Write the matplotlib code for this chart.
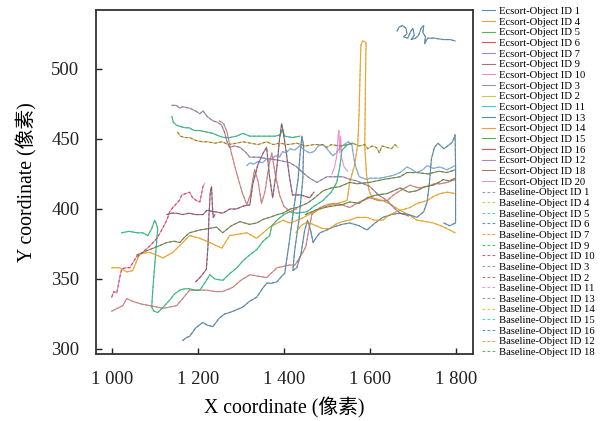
import numpy as np
import matplotlib
matplotlib.use("Agg")
import matplotlib.pyplot as plt

plt.rcParams['font.family'] = ['Liberation Serif', 'Noto Sans CJK SC']

# ---- trajectories (x, y in pixels) ----
trk_1 = [(1663, 527), (1668, 530), (1676, 531), (1684, 529), (1686, 525), (1678, 523), (1688, 522),
         (1695, 527), (1700, 529), (1703, 524), (1696, 521), (1706, 522), (1713, 524), (1719, 529),
         (1725, 531), (1723, 526), (1729, 523), (1727, 518), (1734, 522), (1750, 522), (1770, 521),
         (1786, 521), (1798, 520)]
trk_4 = [(1000, 358), (1019, 358), (1035, 355), (1049, 356), (1065, 368), (1088, 369), (1105, 367),
         (1119, 365), (1142, 369), (1165, 376), (1181, 381), (1205, 379), (1228, 376), (1256, 372),
         (1274, 381), (1295, 382), (1314, 383), (1337, 379), (1367, 387), (1398, 392), (1414, 390),
         (1440, 393), (1470, 398), (1500, 402), (1525, 404), (1547, 406), (1553, 419), (1565, 432),
         (1572, 447), (1575, 470), (1577, 495), (1579, 517), (1583, 520), (1591, 519), (1590, 500),
         (1589, 470), (1588, 445), (1592, 425), (1598, 413), (1605, 408), (1630, 406), (1650, 403),
         (1670, 399), (1690, 396), (1709, 392), (1730, 391), (1747, 390), (1765, 388), (1779, 386),
         (1798, 383)]
trk_5 = [(1140, 466), (1143, 462), (1150, 460), (1158, 459), (1170, 458), (1180, 458), (1192, 456),
         (1205, 456), (1220, 455), (1235, 454), (1250, 452), (1262, 451), (1274, 451), (1290, 452),
         (1305, 454), (1321, 452), (1340, 452), (1360, 452), (1380, 452), (1392, 453), (1397, 457),
         (1402, 452), (1420, 451), (1437, 452)]
trk_6 = [(1128, 396), (1140, 397), (1151, 397), (1165, 396), (1180, 397), (1195, 396), (1212, 396),
         (1221, 399), (1240, 398), (1258, 397), (1275, 400), (1290, 400), (1305, 402), (1321, 403),
         (1328, 418), (1340, 432), (1352, 440), (1360, 444), (1366, 425), (1374, 408), (1384, 430),
         (1390, 450), (1395, 461), (1400, 452), (1405, 442), (1412, 425), (1420, 410), (1440, 410),
         (1460, 408), (1470, 412)]
trk_7 = [(1000, 327), (1013, 329), (1026, 331), (1035, 336), (1049, 334), (1070, 332), (1088, 331),
         (1105, 330), (1119, 329), (1135, 330), (1151, 331), (1165, 336), (1181, 342), (1200, 342),
         (1221, 342), (1240, 341), (1258, 341), (1281, 344), (1300, 349), (1321, 353), (1340, 352),
         (1360, 351), (1384, 358), (1400, 359), (1414, 360), (1426, 360), (1444, 369), (1451, 373),
         (1458, 385), (1465, 396), (1484, 401), (1500, 403), (1514, 404), (1535, 403), (1553, 401),
         (1575, 405), (1600, 408), (1620, 406), (1640, 406), (1655, 410), (1670, 413), (1693, 417),
         (1713, 415), (1733, 416), (1750, 418), (1763, 418), (1780, 419), (1798, 421)]
trk_9 = [(1058, 367), (1080, 370), (1105, 373), (1128, 376), (1145, 377), (1158, 376), (1170, 380),
         (1181, 383), (1205, 385), (1225, 386), (1244, 387), (1258, 383), (1278, 388), (1298, 391),
         (1320, 389), (1337, 390), (1355, 393), (1367, 394), (1385, 396), (1398, 397), (1415, 400),
         (1430, 401), (1454, 404), (1472, 408), (1491, 413), (1510, 415), (1530, 416), (1553, 419),
         (1570, 418), (1600, 419), (1630, 421), (1670, 423), (1686, 426), (1710, 426), (1735, 425),
         (1760, 427), (1779, 426), (1798, 428)]
trk_10 = [(1000, 337), (1005, 341), (1012, 340), (1018, 350), (1023, 357), (1032, 358), (1042, 358),
          (1050, 362), (1058, 366), (1065, 367), (1075, 370), (1090, 374), (1105, 379), (1118, 386),
          (1128, 392), (1135, 398), (1142, 401), (1151, 404), (1157, 406), (1163, 410), (1172, 411),
          (1181, 412), (1188, 408), (1197, 406), (1205, 405), (1212, 416), (1216, 418)]
trk_3 = [(1140, 474), (1150, 474), (1158, 472), (1165, 473), (1181, 472), (1195, 470), (1205, 468),
         (1212, 470), (1222, 466), (1235, 463), (1245, 462), (1255, 460), (1262, 455), (1268, 448),
         (1274, 444), (1285, 445), (1298, 444), (1310, 441), (1321, 437), (1340, 437), (1360, 436),
         (1384, 435), (1400, 434), (1414, 433), (1430, 430), (1444, 426), (1460, 422), (1477, 419),
         (1500, 423), (1520, 423), (1537, 423), (1555, 421), (1570, 420), (1585, 418), (1600, 416),
         (1620, 410), (1640, 406), (1655, 401), (1670, 397), (1690, 395)]
trk_2 = [(1153, 455), (1160, 452), (1170, 451), (1181, 451), (1195, 449), (1210, 448), (1223, 448),
         (1240, 447), (1257, 448), (1270, 446), (1290, 447), (1305, 448), (1323, 447), (1340, 446),
         (1360, 448), (1375, 446), (1390, 447), (1410, 446), (1430, 447), (1450, 445), (1470, 446),
         (1490, 446), (1500, 444), (1510, 446), (1530, 445), (1550, 446), (1560, 447), (1575, 445),
         (1588, 446), (1595, 443), (1605, 445), (1615, 444), (1622, 440), (1628, 445), (1640, 444),
         (1650, 443), (1658, 446), (1665, 444)]
trk_11 = [(1314, 431), (1321, 433), (1330, 432), (1340, 434), (1351, 433), (1360, 436), (1370, 435),
          (1380, 438), (1390, 437), (1397, 441), (1405, 440), (1414, 443), (1425, 442), (1437, 445),
          (1448, 442), (1460, 440), (1470, 441), (1480, 445), (1491, 446), (1500, 443), (1514, 438),
          (1522, 440), (1530, 444), (1540, 446), (1550, 448), (1558, 446), (1565, 432), (1575, 423),
          (1593, 421), (1600, 422), (1623, 422), (1640, 423), (1654, 424), (1670, 426), (1686, 430),
          (1693, 429), (1709, 426), (1723, 428), (1733, 431), (1747, 429), (1763, 430), (1779, 428),
          (1798, 431)]
trk_13 = [(1165, 306), (1173, 308), (1181, 309), (1195, 315), (1212, 319), (1222, 317), (1235, 316),
          (1250, 322), (1262, 325), (1274, 326), (1290, 328), (1305, 330), (1320, 334), (1337, 337),
          (1350, 343), (1360, 347), (1372, 347), (1384, 348), (1395, 352), (1402, 354), (1412, 375),
          (1422, 398), (1433, 421), (1438, 440), (1442, 452), (1446, 445), (1444, 421), (1435, 392),
          (1425, 370), (1421, 356), (1430, 358), (1440, 368), (1448, 384), (1455, 392), (1462, 385),
          (1468, 376), (1476, 380), (1484, 383), (1500, 385), (1514, 387), (1535, 389), (1553, 390),
          (1575, 388), (1593, 385), (1612, 390), (1630, 394), (1650, 396), (1670, 397), (1690, 396),
          (1709, 394), (1725, 398), (1733, 405), (1738, 418), (1743, 436), (1750, 444), (1758, 447),
          (1765, 445), (1772, 443), (1785, 446), (1792, 448), (1798, 453), (1799, 430), (1799, 405),
          (1799, 390), (1785, 388), (1772, 390)]
trk_14 = [(1428, 383), (1440, 388), (1450, 390), (1460, 390), (1475, 388), (1490, 386), (1507, 386),
          (1520, 389), (1535, 391), (1553, 392), (1570, 394), (1593, 394), (1610, 392), (1630, 392),
          (1642, 395), (1654, 397), (1670, 399), (1693, 401), (1710, 404), (1733, 406), (1748, 409),
          (1763, 411), (1780, 412), (1798, 411)]
trk_15 = [(1023, 383), (1040, 384), (1060, 383), (1072, 383), (1084, 381), (1093, 386), (1100, 392),
          (1104, 389), (1107, 386), (1100, 360), (1095, 340), (1093, 330), (1098, 327), (1107, 326),
          (1120, 330), (1135, 335), (1145, 339), (1158, 342), (1170, 343), (1181, 343), (1195, 342),
          (1205, 342), (1218, 348), (1228, 353), (1240, 350), (1258, 349), (1275, 354), (1291, 358),
          (1305, 363), (1320, 367), (1337, 371), (1352, 377), (1367, 381), (1372, 388), (1384, 392),
          (1400, 396), (1414, 398), (1430, 397), (1454, 398), (1470, 402), (1491, 406), (1510, 412),
          (1523, 419), (1530, 430), (1535, 442), (1548, 446), (1560, 447)]
trk_16 = [(1195, 348), (1205, 351), (1213, 354), (1220, 357), (1224, 375), (1226, 395), (1229, 412),
          (1232, 416), (1234, 402), (1236, 394), (1240, 396)]
trk_12 = [(1250, 463), (1260, 461), (1268, 455), (1278, 440), (1290, 426), (1303, 412), (1314, 403),
          (1322, 410), (1332, 428), (1340, 420), (1348, 404), (1356, 412), (1366, 432), (1372, 440),
          (1380, 425), (1390, 410), (1400, 402), (1415, 398), (1430, 400)]
trk_18 = [(1450, 396), (1480, 400), (1510, 402), (1535, 403), (1553, 405), (1575, 404), (1593, 408),
          (1615, 410), (1640, 411), (1655, 413), (1670, 415), (1690, 412), (1709, 413), (1728, 416),
          (1747, 417), (1760, 419), (1770, 421), (1785, 420), (1798, 422)]
trk_20 = [(1512, 425), (1518, 430), (1523, 438), (1526, 452), (1528, 456), (1530, 440), (1532, 452),
          (1534, 437), (1540, 430), (1548, 427)]

tracks = {1: trk_1, 2: trk_2, 3: trk_3, 4: trk_4, 5: trk_5, 6: trk_6, 7: trk_7, 9: trk_9,
          10: trk_10, 11: trk_11, 12: trk_12, 13: trk_13, 14: trk_14, 15: trk_15, 16: trk_16,
          18: trk_18, 20: trk_20}

# legend order as in the figure
ecsort_ids = [1, 4, 5, 6, 7, 9, 10, 3, 2, 11, 13, 14, 15, 16, 12, 18, 20]
baseline_ids = [1, 4, 5, 6, 7, 9, 10, 3, 2, 11, 13, 14, 15, 16, 12, 18]

xticks = [1000, 1200, 1400, 1600, 1800]
xtick_labels = ['1 000', '1 200', '1 400', '1 600', '1 800']
yticks = [300, 350, 400, 450, 500]

colors = plt.rcParams['axes.prop_cycle'].by_key()['color']

fig = plt.figure(figsize=(6.01, 4.21), dpi=100)
ax = fig.add_axes([0.1597, 0.1591, 0.6273, 0.8171])

k = 0
for oid in ecsort_ids:
    pts = np.array(tracks[oid])
    ax.plot(pts[:, 0], pts[:, 1], color=colors[k % 10], lw=0.8, alpha=0.8,
            label='Ecsort-Object ID %d' % oid)
    k += 1
for oid in baseline_ids:
    pts = np.array(tracks[oid])
    ax.plot(pts[:, 0], pts[:, 1], color=colors[k % 10], lw=0.8, alpha=0.75,
            linestyle=(0, (2.5, 2)), label='Baseline-Object ID %d' % oid)
    k += 1

ax.set_xlim(963.5, 1839.5)
ax.set_ylim(296.4, 542.1)
ax.set_xticks(xticks)
ax.set_xticklabels(xtick_labels)
ax.set_yticks(yticks)
ax.tick_params(direction='in', length=4, width=1, labelsize=13.5, pad=12, colors='#222222')
for s in ax.spines.values():
    s.set_color('#333333')
    s.set_linewidth(1.3)

ax.set_xlabel('X coordinate (像素)', fontsize=14.2, labelpad=7)
ax.set_ylabel('Y coordinate (像素)', fontsize=14.2, labelpad=10)

ax.legend(loc='upper left', bbox_to_anchor=(1.024, 1.01), frameon=False, fontsize=7.65,
          handlelength=1.25, handletextpad=0.3, labelspacing=0.115, borderaxespad=0, borderpad=0)

fig.savefig('out.png', dpi=100)
